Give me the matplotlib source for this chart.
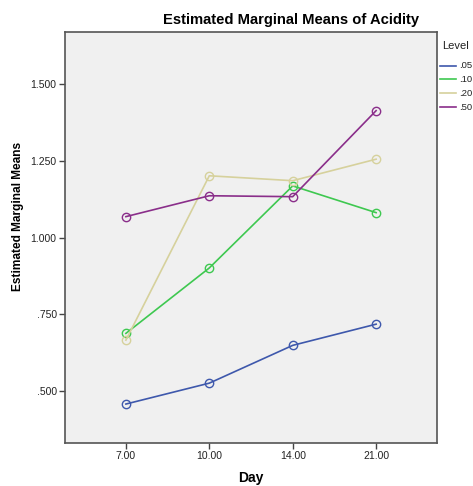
import numpy as np
import matplotlib
matplotlib.use('Agg')
import matplotlib.pyplot as plt
from matplotlib.lines import Line2D

plt.rcParams['font.family'] = ['Liberation Sans', 'DejaVu Sans']

# data
days = ['7.00', '10.00', '14.00', '21.00']
levels = ['.05', '.10', '.20', '.50']
lvl_05 = [0.458, 0.526, 0.649, 0.718]
lvl_10 = [0.688, 0.901, 1.168, 1.081]
lvl_20 = [0.666, 1.201, 1.185, 1.255]
lvl_50 = [1.068, 1.136, 1.133, 1.413]
yticks = [0.5, 0.75, 1.0, 1.25, 1.5]
ytick_labels = ['.500', '.750', '1.000', '1.250', '1.500']

colors = ['#3e58ac', '#3ec850', '#d6d19c', '#8a2e8a']
series = [lvl_05, lvl_10, lvl_20, lvl_50]

fig = plt.figure(figsize=(4.73, 4.86), dpi=100)
ax = fig.add_axes([65/473, 1-442.6/486, 372/473, 410.6/486])
ax.set_facecolor('#f0f0f0')

x = np.arange(len(days))
for vals, c in zip(series, colors):
    ax.plot(x, vals, color=c, lw=1.2, marker='o', ms=6, mfc='none', mec=c, mew=1.0)

ax.set_xlim(-0.73, 3.73)
ax.set_ylim(0.3325, 1.669)
ax.set_xticks(x)
ax.set_xticklabels(days)
ax.set_yticks(yticks)
ax.set_yticklabels(ytick_labels)
ax.tick_params(axis='both', direction='out', length=4, width=1, color='#444444',
               labelsize=7.5, labelcolor='#222222', pad=2)
for s in ax.spines.values():
    s.set_color('#555555')
    s.set_linewidth(1.2)

ax.set_xlabel('Day', fontsize=10, fontweight='bold', va='center')
ax.xaxis.set_label_coords(0.5, (442.6-478)/410.6)
ax.set_ylabel('Estimated Marginal Means', fontsize=8.6, fontweight='bold', va='center')
ax.yaxis.set_label_coords((18-65)/372, 0.55)
fig.text(291/473, 1-20/486, 'Estimated Marginal Means of Acidity', ha='center', va='center',
         fontsize=10.6, fontweight='bold')

# legend drawn by hand, sits at the right edge as in the original
fig.text(442/473, 1-46/486, 'Level', ha='left', va='center', fontsize=8, color='#222222')
leg_y = [65.7, 79.3, 93.3, 107.3]
for lab, c, yy in zip(levels, colors, leg_y):
    fig.add_artist(Line2D([440/473, 456/473], [1-yy/486, 1-yy/486], color=c, lw=1.2,
                          transform=fig.transFigure))
    fig.text(459/473, 1-yy/486, lab, ha='left', va='center', fontsize=6.8, color='#222222')

fig.savefig('out.png', dpi=100)
